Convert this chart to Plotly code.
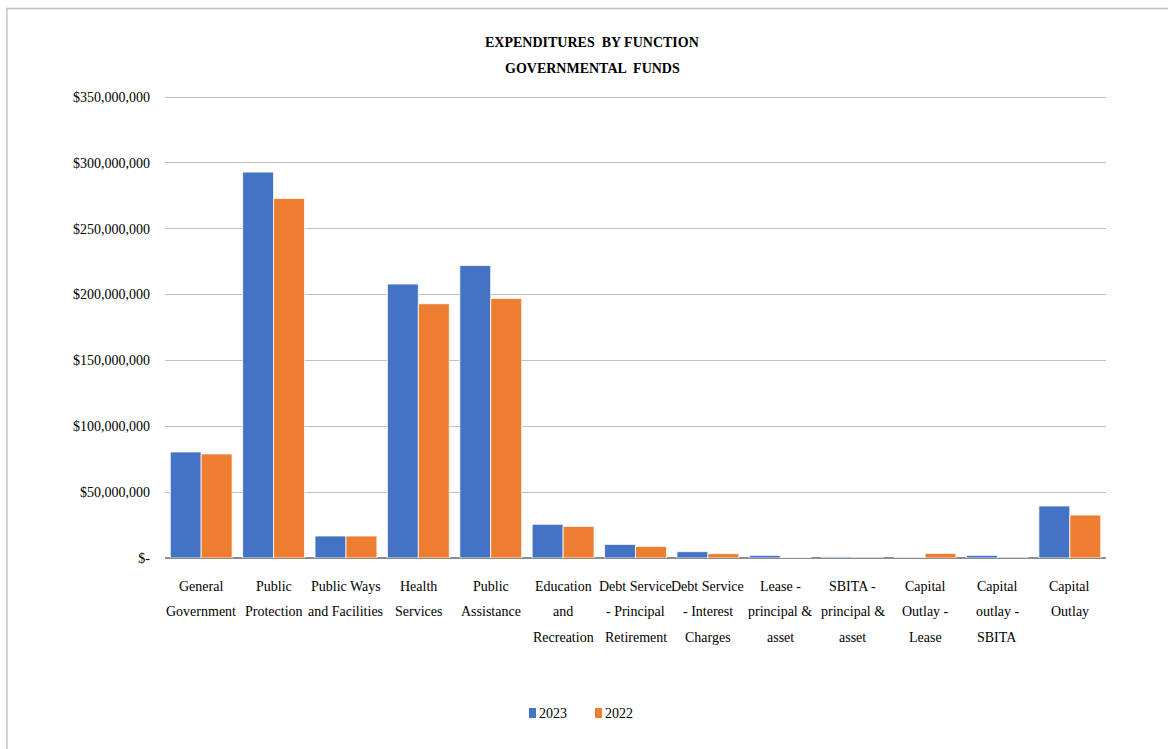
import plotly.graph_objects as go

categories = [
    "General|Government", "Public|Protection", "Public Ways|and Facilities",
    "Health|Services", "Public|Assistance", "Education|and|Recreation",
    "Debt Service|- Principal|Retirement", "Debt Service|- Interest|Charges",
    "Lease -|principal &|asset", "SBITA -|principal &|asset",
    "Capital|Outlay -|Lease", "Capital|outlay -|SBITA", "Capital|Outlay",
]
series_names = ["2023", "2022"]
values_2023 = [80.5e6, 293e6, 16.7e6, 208e6, 222e6, 25.6e6, 10.3e6, 4.8e6, 2.0e6, 0.8e6, 0.5e6, 2.0e6, 39.5e6]
values_2022 = [79e6, 273e6, 16.7e6, 193e6, 197e6, 24.0e6, 8.8e6, 3.3e6, 0.4e6, 0, 3.5e6, 0, 32.6e6]
y_tickvals = [0, 50e6, 100e6, 150e6, 200e6, 250e6, 300e6, 350e6]
y_ticktext = ["$-", "$50,000,000", "$100,000,000", "$150,000,000", "$200,000,000",
              "$250,000,000", "$300,000,000", "$350,000,000"]
title_lines = ["EXPENDITURES  BY FUNCTION", "GOVERNMENTAL  FUNDS"]
colors = ["#4472C4", "#ED7D31"]

FONT = "Liberation Serif"
W, H = 1168, 749
L, R, T, B = 165, 62, 92, 191
PW, PH = W - L - R, H - T - B


def px_x(px):
    return (px - L) / PW


def px_y(py):
    return (H - B - py) / PH


x_idx = list(range(len(categories)))

fig = go.Figure()
for name, vals, col in zip(series_names, [values_2023, values_2022], colors):
    fig.add_trace(go.Bar(x=x_idx, y=vals, name=name,
                         marker=dict(color=col, line=dict(color="white", width=0.8))))

annotations = []
# title
for i, line in enumerate(title_lines):
    annotations.append(dict(text="<b>" + line + "</b>", xref="paper", yref="paper",
                            x=px_x(592), y=px_y(42 + 26 * i), xanchor="center", yanchor="middle",
                            showarrow=False, font=dict(family=FONT, size=14, color="#000")))
# category labels
for xi, cat in zip(x_idx, categories):
    for j, line in enumerate(cat.split("|")):
        annotations.append(dict(text=line, xref="x", yref="paper", x=xi, y=px_y(586 + 25.5 * j),
                                xanchor="center", yanchor="middle", showarrow=False,
                                font=dict(family=FONT, size=14, color="#000")))
# legend
shapes = []
legend_x = [529, 595]
for name, col, lx in zip(series_names, colors, legend_x):
    shapes.append(dict(type="rect", xref="paper", yref="paper",
                       x0=px_x(lx), x1=px_x(lx + 7), y0=px_y(718), y1=px_y(708),
                       fillcolor=col, line=dict(width=0)))
    annotations.append(dict(text=name, xref="paper", yref="paper", x=px_x(lx + 8), y=px_y(713),
                            xanchor="left", yanchor="middle", showarrow=False,
                            font=dict(family=FONT, size=14, color="#000")))
# outer border
shapes.append(dict(type="rect", xref="paper", yref="paper",
                   x0=px_x(7), x1=px_x(1180), y0=px_y(770), y1=px_y(8.5),
                   line=dict(color="#BFBFBF", width=1.3), fillcolor="rgba(0,0,0,0)", layer="below"))

fig.update_layout(
    width=W, height=H,
    margin=dict(l=L, r=R, t=T, b=B),
    paper_bgcolor="white", plot_bgcolor="white",
    barmode="group", bargap=0.145, bargroupgap=0,
    font=dict(family=FONT, size=14, color="#000000"),
    showlegend=False,
    xaxis=dict(range=[-0.5, len(categories) - 0.5], showgrid=False, showline=False,
               ticks="", showticklabels=False),
    yaxis=dict(range=[0, 350e6 * PH / 461], tickmode="array", tickvals=y_tickvals, ticktext=y_ticktext,
               showgrid=True, gridcolor="#BFBFBF", gridwidth=1, zeroline=True,
               zerolinecolor="#8C8C8C", zerolinewidth=1.5, ticks="", ticklabelstandoff=14,
               tickfont=dict(family=FONT, size=14)),
    annotations=annotations,
    shapes=shapes,
)

fig.write_html("out.html")
